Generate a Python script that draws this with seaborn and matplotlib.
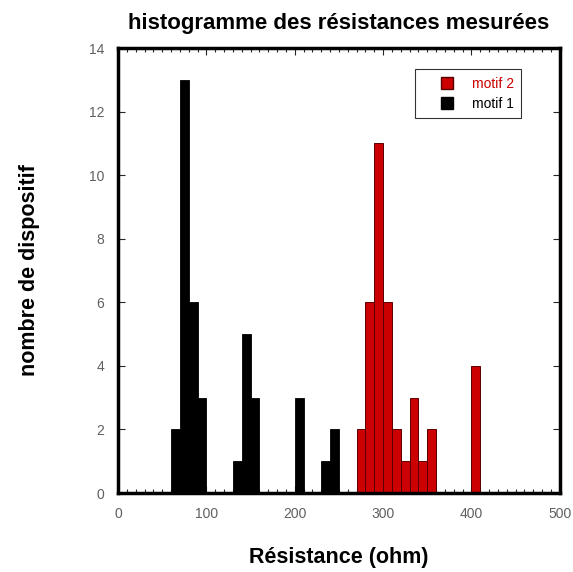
import numpy as np
import pandas as pd
import matplotlib
matplotlib.use("Agg")
import matplotlib.pyplot as plt
import seaborn as sns
from matplotlib.lines import Line2D
from matplotlib.ticker import MultipleLocator

# bin centres (ohm) and counts, bins of 10 ohm
motif1_centres = [65, 75, 85, 95, 135, 145, 155, 205, 235, 245]
motif1_counts = [2, 13, 6, 3, 1, 5, 3, 3, 1, 2]

motif2_centres = [275, 285, 295, 305, 315, 325, 335, 345, 355, 405]
motif2_counts = [2, 6, 11, 6, 2, 1, 3, 1, 2, 4]

df1 = pd.DataFrame({"resistance": motif1_centres, "n": motif1_counts})
df2 = pd.DataFrame({"resistance": motif2_centres, "n": motif2_counts})

sns.set_style("ticks")
plt.rcParams['font.family'] = ['Liberation Sans', 'DejaVu Sans']
plt.rcParams['text.color'] = 'black'
plt.rcParams['axes.labelcolor'] = 'black'

fig = plt.figure(figsize=(5.73, 5.72), dpi=100)
ax = fig.add_axes([0.206, 0.138, 0.771, 0.778])

sns.histplot(data=df1, x="resistance", weights="n", binwidth=10,
             binrange=(0, 500), ax=ax, color="black", edgecolor="black",
             linewidth=0.6, alpha=1)
sns.histplot(data=df2, x="resistance", weights="n", binwidth=10,
             binrange=(0, 500), ax=ax, color="#cc0000", edgecolor="#5a0000",
             linewidth=0.7, alpha=1)

ax.set_xlim(0, 500)
ax.set_ylim(0, 14)
ax.xaxis.set_major_locator(MultipleLocator(100))
ax.xaxis.set_minor_locator(MultipleLocator(10))
ax.yaxis.set_major_locator(MultipleLocator(2))
ax.tick_params(which="both", direction="in", top=True, right=True,
               labelsize=10, labelcolor="#606060", pad=10)
ax.tick_params(which="major", length=5, width=0.8)
ax.tick_params(which="minor", length=3, width=0.8)
for s in ax.spines.values():
    s.set_linewidth(2.5)
    s.set_color("black")

ax.set_xlabel("Résistance (ohm)", fontsize=15.5, fontweight="bold", labelpad=19)
ax.set_ylabel("nombre de dispositif", fontsize=15.5, fontweight="bold", labelpad=35)
ax.set_title("histogramme des résistances mesurées", fontsize=16,
             fontweight="bold", pad=14)

handles = [Line2D([], [], marker="s", linestyle="none", markersize=8.5,
                  markerfacecolor="#cc0000", markeredgecolor="#5a0000"),
           Line2D([], [], marker="s", linestyle="none", markersize=8.5,
                  markerfacecolor="black", markeredgecolor="black")]
leg = ax.legend(handles, ["motif 2", "motif 1"], loc="upper right",
                bbox_to_anchor=(0.913, 0.953), borderaxespad=0, fontsize=10,
                frameon=True, fancybox=False, edgecolor="black",
                handlelength=3.4, handletextpad=0.1, borderpad=0.55,
                labelspacing=0.45)
leg.get_frame().set_linewidth(0.8)
leg.get_texts()[0].set_color("#cc0000")

fig.savefig("out.png", dpi=100)
